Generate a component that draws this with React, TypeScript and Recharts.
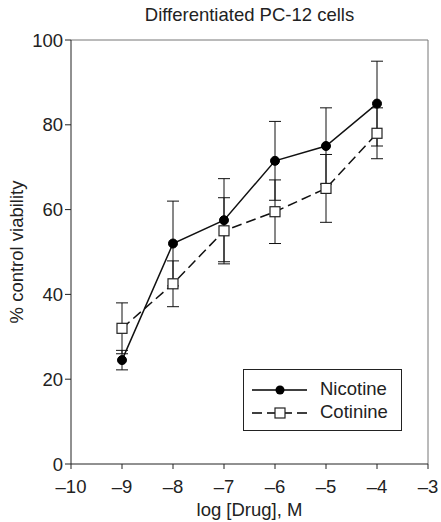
import React from 'react';
import {
  ComposedChart,
  Line,
  XAxis,
  YAxis,
  ErrorBar,
  ReferenceLine,
  Label,
} from 'recharts';

const doses = [-9, -8, -7, -6, -5, -4];
const nicotine = [24.5, 52, 57.5, 71.5, 75, 85];
const nicotineErr = [2.3, 10, 9.8, 9.3, 9, 10];
const cotinine = [32, 42.5, 55, 59.5, 65, 78];
const cotinineErr = [6, 5.4, 7.8, 7.5, 8, 6];
const xTicks = [-10, -9, -8, -7, -6, -5, -4, -3];
const yTicks = [0, 20, 40, 60, 80, 100];

const data = doses.map((d, i) => ({
  dose: d,
  nicotine: nicotine[i],
  nicotineErr: nicotineErr[i],
  cotinine: cotinine[i],
  cotinineErr: cotinineErr[i],
}));

const FONT = 'Liberation Sans, Arial, sans-serif';
const FS = 18.5;
const fmt = (v: number) => (v < 0 ? '\u2013' + Math.abs(v) : String(v));

const CircleDot = (props: any) => {
  const { cx, cy } = props;
  if (cx == null || cy == null) return null;
  return <circle cx={cx} cy={cy} r={4.5} fill="#000" stroke="#000" strokeWidth={1} />;
};

const SquareDot = (props: any) => {
  const { cx, cy } = props;
  if (cx == null || cy == null) return null;
  return (
    <rect x={cx - 5} y={cy - 5} width={10} height={10} fill="#fff" stroke="#222" strokeWidth={1.2} />
  );
};

const XTick = (props: any) => {
  const { x, y, payload } = props;
  return (
    <text x={x} y={y + 22} textAnchor="middle" fill="#222" fontSize={FS} fontFamily={FONT}>
      {fmt(payload.value)}
    </text>
  );
};

const LegendBox = () => (
  <div
    style={{
      position: 'absolute',
      left: 243,
      top: 369,
      width: 159,
      height: 62,
      border: '1px solid #222',
      boxSizing: 'border-box',
      background: '#fff',
      fontFamily: FONT,
      fontSize: FS,
      color: '#222',
    }}
  >
    <svg width={70} height={60} style={{ position: 'absolute', left: 0, top: 0 }}>
      <line x1={8} y1={20} x2={63} y2={20} stroke="#000" strokeWidth={1.5} />
      <circle cx={36} cy={20} r={4.5} fill="#000" />
      <line x1={8} y1={43} x2={63} y2={43} stroke="#000" strokeWidth={1.5} strokeDasharray="10 5" />
      <rect x={31} y={38} width={10} height={10} fill="#fff" stroke="#222" strokeWidth={1.2} />
    </svg>
    <div style={{ position: 'absolute', left: 76, top: 9, lineHeight: '20px' }}>Nicotine</div>
    <div style={{ position: 'absolute', left: 76, top: 32, lineHeight: '20px' }}>Cotinine</div>
  </div>
);

export default function App() {
  return (
    <div style={{ position: 'absolute', left: 0, top: 0, width: 441, height: 522, background: '#fff' }}>
      <div
        style={{
          position: 'absolute',
          left: 71,
          width: 357,
          top: 4,
          textAlign: 'center',
          fontFamily: FONT,
          fontSize: FS,
          color: '#222',
        }}
      >
        Differentiated PC-12 cells
      </div>
      <ComposedChart
        width={441}
        height={522}
        data={data}
        margin={{ top: 40, right: 13, bottom: 28, left: 11 }}
        style={{ position: 'absolute', left: 0, top: 0 }}
      >
        <XAxis
          dataKey="dose"
          type="number"
          domain={[-10, -3]}
          ticks={xTicks}
          height={30}
          stroke="#222"
          tickSize={5}
          tick={<XTick />}
          allowDataOverflow
        >
          <Label
            value="log [Drug], M"
            position="insideBottom"
            offset={-22}
            style={{ fill: '#222', fontSize: FS, fontFamily: FONT }}
          />
        </XAxis>
        <YAxis
          type="number"
          domain={[0, 100]}
          ticks={yTicks}
          width={60}
          stroke="#222"
          tickSize={6}
          tick={{ fill: '#222', fontSize: FS, fontFamily: FONT }}
          allowDataOverflow
        >
          <Label
            value="% control viability"
            angle={-90}
            position="insideLeft"
            offset={9}
            dx={-4}
            style={{ fill: '#222', fontSize: FS, fontFamily: FONT, textAnchor: 'middle' }}
          />
        </YAxis>
        <ReferenceLine y={100} stroke="#777" strokeWidth={1} />
        <ReferenceLine x={-3} stroke="#777" strokeWidth={1} />
        <Line
          type="linear"
          dataKey="cotinine"
          stroke="#111"
          strokeWidth={1.5}
          strokeDasharray="10 5"
          dot={<SquareDot />}
          isAnimationActive={false}
        >
          <ErrorBar dataKey="cotinineErr" width={6} stroke="#111" strokeWidth={1} direction="y" />
        </Line>
        <Line
          type="linear"
          dataKey="nicotine"
          stroke="#111"
          strokeWidth={1.5}
          dot={<CircleDot />}
          isAnimationActive={false}
        >
          <ErrorBar dataKey="nicotineErr" width={6} stroke="#111" strokeWidth={1} direction="y" />
        </Line>
      </ComposedChart>
      <LegendBox />
    </div>
  );
}
